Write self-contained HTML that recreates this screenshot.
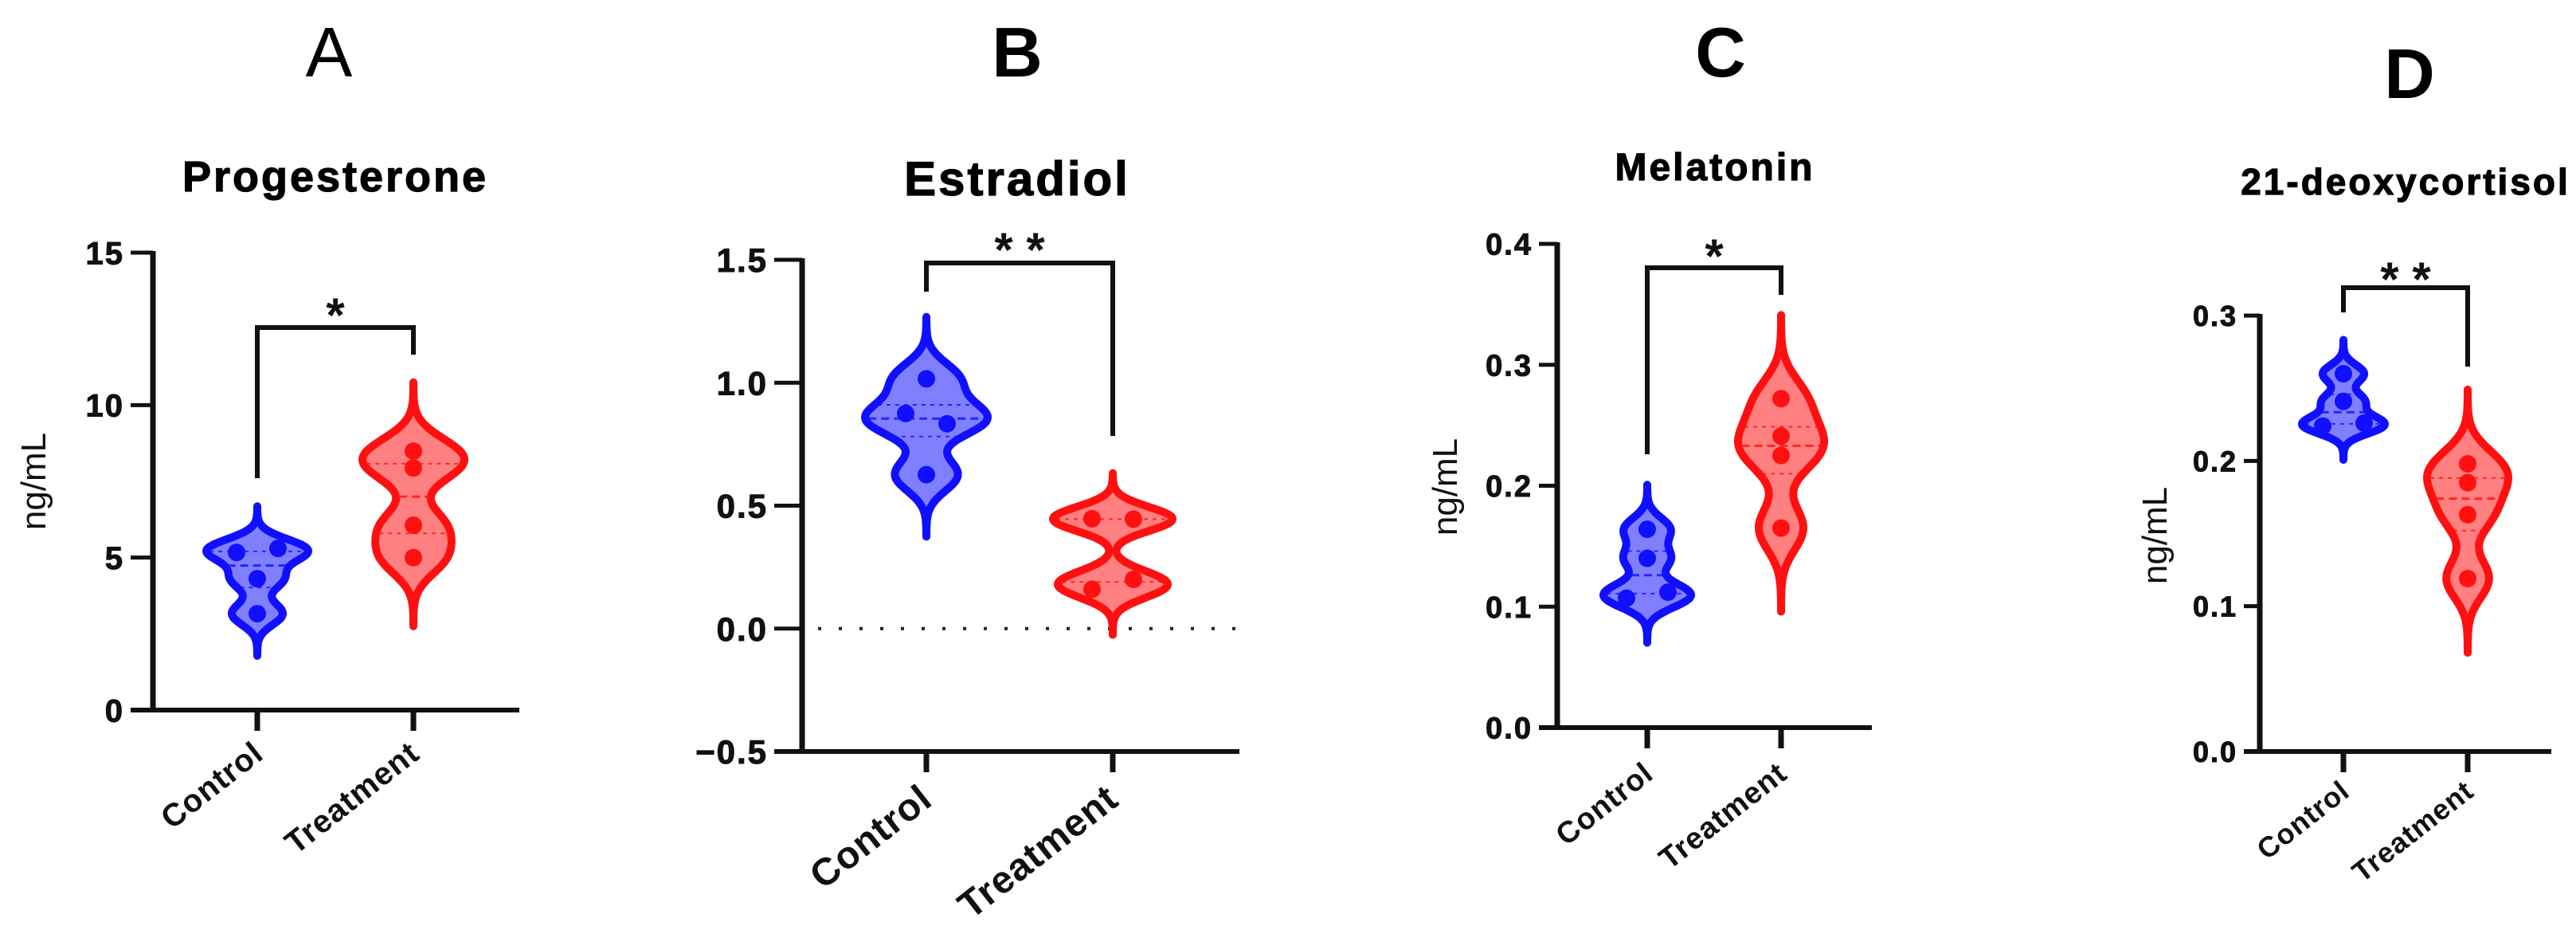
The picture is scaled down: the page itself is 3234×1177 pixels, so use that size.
<!DOCTYPE html>
<html><head><meta charset="utf-8"><style>
html,body{margin:0;padding:0;background:#fff;}
svg{display:block;font-family:"Liberation Sans",Arial,sans-serif;}
</style></head><body>
<svg id="fig" width="3234" height="1177" viewBox="0 0 3234 1177" xmlns="http://www.w3.org/2000/svg"></svg>
<script>
// ---- data (ng/mL) ----
const categories = ["Control", "Treatment"];
const progControl = [5.17, 5.3, 4.31, 3.16];
const progTreatment = [8.49, 7.94, 6.06, 5.0];
const estrControl = [1.016, 0.875, 0.833, 0.626];
const estrTreatment = [0.447, 0.445, 0.16, 0.2];
const melaControl = [0.164, 0.14, 0.107, 0.112];
const melaTreatment = [0.272, 0.241, 0.225, 0.165];
const deoxControl = [0.26, 0.241, 0.224, 0.226];
const deoxTreatment = [0.198, 0.185, 0.163, 0.119];
const progTicks = [0, 5, 10, 15];
const estrTicks = [-0.5, 0.0, 0.5, 1.0, 1.5];
const melaTicks = [0.0, 0.1, 0.2, 0.3, 0.4];
const deoxTicks = [0.0, 0.1, 0.2, 0.3];
const progTickLabels = ["0", "5", "10", "15"];
const estrTickLabels = ["\u22120.5", "0.0", "0.5", "1.0", "1.5"];
const melaTickLabels = ["0.0", "0.1", "0.2", "0.3", "0.4"];
const deoxTickLabels = ["0.0", "0.1", "0.2", "0.3"];
const sigLabels = ["*", "* *", "*", "* *"];

// ---- layout ----
const NS = "http://www.w3.org/2000/svg";
const svg = document.getElementById('fig');
function mk(tag, attrs, parent) {
  const e = document.createElementNS(NS, tag);
  for (const k in attrs) e.setAttribute(k, attrs[k]);
  (parent || svg).appendChild(e);
  return e;
}
const panels = [
  {key:'progesterone', letter:'A', letterX:413, letterY:96, letterW:'normal', letterSize:88,
   title:'Progesterone', titleX:421, titleY:240, titleSize:54,
   ax:192, ax0:164, ax1:652, yTop:317, yBot:891, dMin:0, dMax:15,
   ticks:progTicks, labels:progTickLabels, tickFont:40,
   cx:[323,519], data:[progControl, progTreatment], halfW:[64,64],
   brTop:411, brL:600, brR:445, sig:sigLabels[0], sigY:392,
   ylabel:true, ylx:42, yly:604, xFont:40, xlY:950, zeroLine:false},
  {key:'estradiol', letter:'B', letterX:1277, letterY:96, letterW:'bold', letterSize:88,
   title:'Estradiol', titleX:1277, titleY:245, titleSize:60,
   ax:1007, ax0:972, ax1:1556, yTop:326, yBot:943, dMin:-0.5, dMax:1.5,
   ticks:estrTicks, labels:estrTickLabels, tickFont:42,
   cx:[1163,1397], data:[estrControl, estrTreatment], halfW:[77,75],
   brTop:330, brL:366, brR:547, sig:sigLabels[1], sigY:310,
   ylabel:false, xFont:48, xlY:1008, zeroLine:true},
  {key:'melatonin', letter:'C', letterX:2160, letterY:96, letterW:'bold', letterSize:88,
   title:'Melatonin', titleX:2153, titleY:226, titleSize:48,
   ax:1955, ax0:1932, ax1:2350, yTop:306, yBot:913, dMin:0, dMax:0.4,
   ticks:melaTicks, labels:melaTickLabels, tickFont:38,
   cx:[2068,2236], data:[melaControl, melaTreatment], halfW:[55,54],
   brTop:336, brL:570, brR:370, sig:sigLabels[2], sigY:318,
   ylabel:true, ylx:1814, yly:611, xFont:38, xlY:975, zeroLine:false},
  {key:'deoxycortisol', letter:'D', letterX:3025, letterY:123, letterW:'bold', letterSize:88,
   title:'21-deoxycortisol', titleX:3020, titleY:244, titleSize:46,
   ax:2837, ax0:2817, ax1:3203, yTop:396, yBot:943, dMin:0, dMax:0.3,
   ticks:deoxTicks, labels:deoxTickLabels, tickFont:36,
   cx:[2942,3098], data:[deoxControl, deoxTreatment], halfW:[52,51],
   brTop:361, brL:392, brR:460, sig:sigLabels[3], sigY:347,
   ylabel:true, ylx:2705, yly:672, xFont:36, xlY:997, zeroLine:false}
];
const strokeCol = ['#1010ff', '#ff1010'];
const fillCol = ['#8080ff', '#ff8080'];

function quantile(arr, q) {
  const s = arr.slice().sort((a,b)=>a-b);
  const pos = (s.length - 1) * q, lo = Math.floor(pos), hi = Math.ceil(pos);
  return s[lo] + (s[hi] - s[lo]) * (pos - lo);
}

panels.forEach(p => {
  const g = mk('g', {});
  
  
  const yScale = v => p.yBot - (v - p.dMin) / (p.dMax - p.dMin) * (p.yBot - p.yTop);

  const L = mk('text', {x:p.letterX, y:p.letterY, 'font-size':p.letterSize, 'font-weight':p.letterW, 'text-anchor':'middle', fill:'#000'}, g);
  L.textContent = p.letter;
  
  

  const T = mk('text', {x:p.titleX, y:p.titleY, 'font-size':p.titleSize, 'font-weight':'bold', 'text-anchor':'middle', 'letter-spacing':3, fill:'#000', stroke:'#000', 'stroke-width':1.2}, g);
  T.textContent = p.title;
  
  

  if (p.zeroLine) {
    const z = mk('line', {x1:p.ax+20, x2:p.ax1, y1:yScale(0), y2:yScale(0), stroke:'#222', 'stroke-width':4, 'stroke-dasharray':'4 22'}, g);
    
    
  }

  // violins
  p.data.forEach((vals, i) => {
    const mn = Math.min(...vals), mx = Math.max(...vals), rng = mx - mn;
    const h = 0.17 * rng;
    const lo = mn - 3.8 * h, hi = mx + 3.8 * h;
    const dens = y => vals.reduce((s, v) => s + Math.exp(-0.5 * ((y - v) / h) ** 2), 0);
    const N = 140, ys = [], ds = [];
    for (let k = 0; k <= N; k++) { const y = lo + (hi - lo) * k / N; ys.push(y); ds.push(dens(y)); }
    const dmax = Math.max(...ds), d0 = Math.min(ds[0], ds[N]);
    const hw = ds.map(d => Math.max(0, (d - d0) / (dmax - d0)) * p.halfW[i]);
    const cx = p.cx[i];
    let path = '';
    for (let k = 0; k <= N; k++) path += (k ? 'L' : 'M') + (cx + hw[k]).toFixed(1) + ' ' + yScale(ys[k]).toFixed(1);
    for (let k = N; k >= 0; k--) path += 'L' + (cx - hw[k]).toFixed(1) + ' ' + yScale(ys[k]).toFixed(1);
    path += 'Z';
    const vp = mk('path', {d:path, fill:fillCol[i], stroke:strokeCol[i], 'stroke-width':10, 'stroke-linejoin':'round'}, g);
    
    
    // quartile lines
    [0.25, 0.5, 0.75].forEach(q => {
      const qv = quantile(vals, q);
      const w = (Math.max(0, dens(qv) - d0) / (dmax - d0)) * p.halfW[i] - 4;
      const ql = mk('line', {x1:cx - w, x2:cx + w, y1:yScale(qv), y2:yScale(qv), stroke:strokeCol[i], 'stroke-width':q === 0.5 ? 3 : 2, 'stroke-dasharray':q === 0.5 ? '10 6' : '5 6', opacity:0.8}, g);
      
      
    });
    // points
    const thr = 0.145 * rng;
    vals.forEach((v, j) => {
      let off = 0;
      vals.forEach((w2, j2) => { if (j2 !== j && Math.abs(w2 - v) < thr) off = j < j2 ? -26 : 26; });
      const c = mk('circle', {cx:cx + off, cy:yScale(v), r:11, fill:strokeCol[i]}, g);
      
      
    });
  });

  // axes
  const ya = mk('line', {x1:p.ax, x2:p.ax, y1:p.yTop - 2, y2:p.yBot + 3, stroke:'#111', 'stroke-width':7}, g);
  
  
  const xa = mk('line', {x1:p.ax0, x2:p.ax1, y1:p.yBot, y2:p.yBot, stroke:'#111', 'stroke-width':6}, g);
  
  
  p.ticks.forEach((t, k) => {
    const y = yScale(t);
    const tl = mk('line', {x1:p.ax0, x2:p.ax, y1:y, y2:y, stroke:'#111', 'stroke-width':5}, g);
    
    
    const tx = mk('text', {x:p.ax0 - 8, y:y + p.tickFont * 0.36, 'font-size':p.tickFont, 'font-weight':'bold', 'text-anchor':'end', 'letter-spacing':2, fill:'#111', stroke:'#111', 'stroke-width':1}, g);
    tx.textContent = p.labels[k];
    
    
  });
  p.cx.forEach((cx, i) => {
    const xt = mk('line', {x1:cx, x2:cx, y1:p.yBot, y2:p.yBot + 26, stroke:'#111', 'stroke-width':7}, g);
    
    
    const lx = cx + 10;
    const xl = mk('text', {x:lx, y:p.xlY, 'font-size':p.xFont, 'font-weight':'bold', 'text-anchor':'end', 'letter-spacing':1, fill:'#111', transform:'rotate(-38 ' + lx + ' ' + p.xlY + ')'}, g);
    xl.textContent = categories[i];
    
    
  });

  if (p.ylabel) {
    const yl = mk('text', {x:p.ylx, y:p.yly, 'font-size':44, 'text-anchor':'middle', fill:'#111', transform:'rotate(-90 ' + p.ylx + ' ' + p.yly + ')', dy:15}, g);
    yl.textContent = 'ng/mL';
    
    
  }

  // significance bracket
  const br = mk('path', {d:'M' + p.cx[0] + ' ' + p.brL + 'V' + p.brTop + 'H' + p.cx[1] + 'V' + p.brR, fill:'none', stroke:'#111', 'stroke-width':6}, g);
  
  
  const st = mk('text', {x:(p.cx[0] + p.cx[1]) / 2, y:p.sigY + 24, 'font-size':60, 'font-weight':'bold', 'text-anchor':'middle', fill:'#111'}, g);
  st.textContent = p.sig;
  
  
});
</script>
</body></html>
